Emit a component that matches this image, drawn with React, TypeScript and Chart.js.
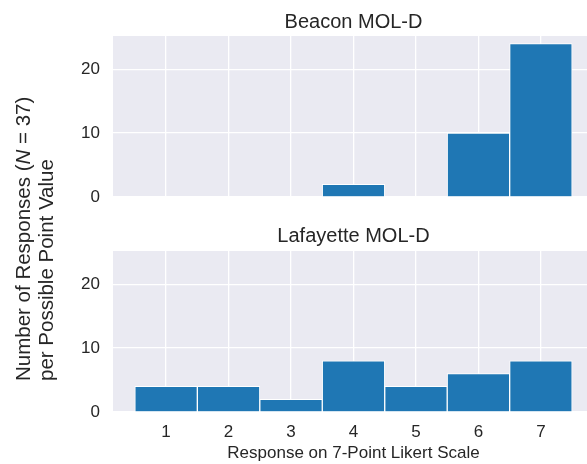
import React, { useEffect, useRef } from "react";
import { Chart, registerables } from "chart.js";

Chart.register(...registerables);

// ---- data ----
const categories = [1, 2, 3, 4, 5, 6, 7];
const beaconCounts = [0, 0, 0, 2, 0, 10, 24];
const lafayetteCounts = [4, 4, 2, 8, 4, 6, 8];
const xTickValues = [1, 2, 3, 4, 5, 6, 7];
const yTickValues = [0, 10, 20];
const panelTitles = ["Beacon MOL-D", "Lafayette MOL-D"];
const xAxisTitle = "Response on 7-Point Likert Scale";
const yLabelLine1Before = "Number of Responses (";
const yLabelItalic = "N";
const yLabelLine1After = " = 37)";
const yLabelLine2 = "per Possible Point Value";

// ---- style ----
const FONT = "'Liberation Sans', Arial, Helvetica, sans-serif";
const TEXT = "#262626";
const BG = "#EAEAF2";
const BAR = "#1f77b4";
const X_MIN = 0.15;
const X_MAX = 7.85;
const Y_MAX = 25.2;
const CANVAS_W = 600;

const bgPlugin = {
  id: "axesBg",
  beforeDraw(chart: any) {
    const { ctx, chartArea } = chart;
    ctx.save();
    ctx.fillStyle = BG;
    ctx.fillRect(chartArea.left, chartArea.top, chartArea.right - chartArea.left, chartArea.bottom - chartArea.top);
    ctx.restore();
  },
};

function makeChart(canvas: HTMLCanvasElement, values: number[], title: string, bottom: boolean) {
  return new Chart(canvas, {
    type: "bar",
    data: {
      datasets: [
        {
          data: categories.map((c, i) => ({ x: c, y: values[i] })),
          backgroundColor: BAR,
          borderColor: "#ffffff",
          borderWidth: 1,
          barPercentage: 1,
          categoryPercentage: 1,
        } as any,
      ],
    },
    options: {
      animation: false,
      responsive: false,
      devicePixelRatio: 1,
      events: [],
      layout: {
        padding: { left: 0, right: CANVAS_W - 594, top: 0, bottom: bottom ? 0 : 35 },
      },
      plugins: {
        legend: { display: false },
        tooltip: { enabled: false },
        title: {
          display: true,
          text: title,
          color: TEXT,
          fullSize: false,
          font: { family: FONT, size: 20, weight: "normal", lineHeight: 1.2 },
          padding: bottom ? { top: 14, bottom: 3 } : { top: 10, bottom: 2 },
        },
      },
      scales: {
        x: {
          type: "linear",
          min: X_MIN,
          max: X_MAX,
          offset: false,
          grid: { color: "#ffffff", lineWidth: 1.3, offset: false, drawTicks: false },
          border: { display: false },
          afterBuildTicks: (s: any) => {
            s.ticks = xTickValues.map((v) => ({ value: v }));
          },
          ticks: {
            display: bottom,
            color: TEXT,
            padding: 10,
            font: { family: FONT, size: 17 },
            maxRotation: 0,
            autoSkip: false,
          },
          title: {
            display: bottom,
            text: xAxisTitle,
            color: TEXT,
            font: { family: FONT, size: 17 },
            padding: { top: 0, bottom: 0 },
          },
          afterFit: (s: any) => {
            s.height = bottom ? 52 : 0;
          },
        },
        y: {
          type: "linear",
          min: 0,
          max: Y_MAX,
          grid: { color: "#ffffff", lineWidth: 1.3, drawTicks: false },
          border: { display: false },
          afterBuildTicks: (s: any) => {
            s.ticks = yTickValues.map((v) => ({ value: v }));
          },
          ticks: {
            color: TEXT,
            padding: 13,
            font: { family: FONT, size: 17 },
          },
          afterFit: (s: any) => {
            s.width = 113;
          },
        },
      },
    } as any,
    plugins: [bgPlugin],
  });
}

export default function App() {
  const topRef = useRef<HTMLCanvasElement>(null);
  const botRef = useRef<HTMLCanvasElement>(null);

  useEffect(() => {
    const c1 = makeChart(topRef.current!, beaconCounts, panelTitles[0], false);
    const c2 = makeChart(botRef.current!, lafayetteCounts, panelTitles[1], true);
    return () => {
      c1.destroy();
      c2.destroy();
    };
  }, []);

  return (
    <div
      style={{
        position: "fixed",
        left: 0,
        top: 0,
        width: 587,
        height: 464,
        overflow: "hidden",
        background: "#ffffff",
      }}
    >
      <canvas ref={topRef} width={CANVAS_W} height={232} style={{ position: "absolute", left: 0, top: 0 }} />
      <canvas ref={botRef} width={CANVAS_W} height={254} style={{ position: "absolute", left: 0, top: 210 }} />
      <div
        style={{
          position: "absolute",
          left: 10.5,
          top: 381,
          transformOrigin: "0 0",
          transform: "rotate(-90deg)",
          fontFamily: FONT,
          fontSize: 20.5,
          lineHeight: "23px",
          color: TEXT,
          whiteSpace: "nowrap",
          textAlign: "left",
        }}
      >
        <div>
          {yLabelLine1Before}
          <i>{yLabelItalic}</i>
          {yLabelLine1After}
        </div>
        <div>{yLabelLine2}</div>
      </div>
    </div>
  );
}
